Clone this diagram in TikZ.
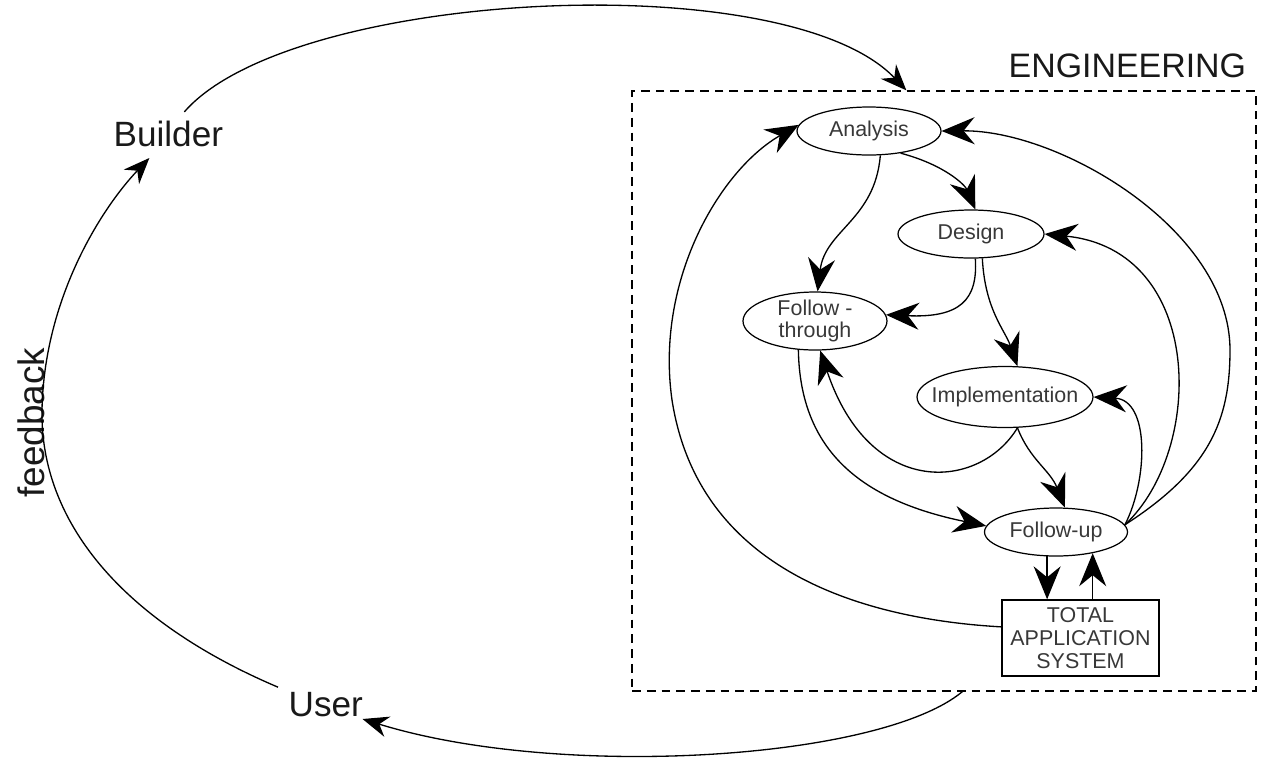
\documentclass[tikz,border=0pt]{standalone}
\usepackage{fontspec}
\setmainfont{Liberation Sans}
\usetikzlibrary{shapes.geometric,arrows.meta,calc}

\begin{document}
\begin{tikzpicture}[x=0.02cm,y=-0.02cm,
  line width=0.75pt,
  big/.style={font=\fontsize{20}{24}\selectfont, text=black!90, inner sep=0},
  lbl/.style={font=\fontsize{12.2}{12.9}\selectfont, text=black!78, inner sep=0, align=center},
  oval/.style={ellipse, draw, line width=0.7pt, inner sep=0},
  flowarrow/.style={-{Stealth[length=0.66cm,width=0.54cm,inset=0.22cm]}},
  cyclearrow/.style={-{Stealth[length=0.52cm,width=0.42cm,inset=0.17cm]}},
]
\useasboundingbox (0,0) rectangle (1269,762);

% outer actors
\node[big, anchor=base west] (builder) at (113,146) {Builder};
\node[big, anchor=base west] (user) at (288,716) {User};
\node[big, anchor=base west, rotate=90, font=\fontsize{21}{24}\selectfont] (fb) at (45,498) {feedback};

% engineering frame
\node[draw, dash pattern=on 5pt off 3.4pt, line width=0.8pt, inner sep=0,
      minimum width=12.48cm, minimum height=12cm] (eng) at (944,391) {};
\node[big, anchor=base west, font=\fontsize{19.3}{23}\selectfont] (englbl) at (1008,77) {ENGINEERING};
\coordinate (engin) at ($(eng.north west)+(275,0)$);
\coordinate (engout) at ($(eng.south west)+(331,0)$);

% process stages
\node[oval, minimum width=2.88cm, minimum height=0.96cm] (an) at (869,131) {};
\node[lbl] (an-t) at (an.center) {Analysis};
\node[oval, minimum width=2.92cm, minimum height=0.96cm] (de) at (971,234) {};
\node[lbl] (de-t) at (de.center) {Design};
\node[oval, minimum width=2.88cm, minimum height=1.16cm] (ft) at (815,321) {};
\node[lbl] (ft-t) at (ft.center) {Follow -\\through};
\node[oval, minimum width=3.52cm, minimum height=1.22cm] (im) at (1005,397) {};
\node[lbl] (im-t) at (im.center) {Implementation};
\node[oval, minimum width=2.86cm, minimum height=0.96cm] (fu) at (1056,532) {};
\node[lbl] (fu-t) at (fu.center) {Follow-up};
\node[draw, line width=0.8pt, inner sep=0, minimum width=3.14cm, minimum height=1.52cm] (tas) at (1080.5,638) {};
\node[lbl] (tas-t) at (tas.center) {TOTAL\\APPLICATION\\SYSTEM};

% outer cycle
\draw[cyclearrow] ($(builder.north)+(16,-8)$) .. controls (290,-10) and (786,-36) .. (engin);
\draw[cyclearrow] (engout) .. controls (880,760) and (560,780) .. ($(user.south east)+(-1,2)$);
\draw[cyclearrow] ($(user.north west)+(-10,-4)$) .. controls (120,620) and (40,520) .. (42,410)
   .. controls (44,300) and (100,210) .. ($(builder.south)+(-19,11)$);

% inner flows
\draw[flowarrow] (an.-35) .. controls (945,165) and (965,185) .. (de.80);
\draw[flowarrow] (an.-65) .. controls (875,220) and (825,230) .. (ft.85);
\draw[flowarrow] (de.-80) .. controls (978,300) and (960,318) .. (ft.5);
\draw[flowarrow] (de.-65) .. controls (985,310) and (1005,330) .. (im.68);
\draw[flowarrow] (im.-68) .. controls (980,490) and (870,500) .. (ft.-80);
\draw[flowarrow] (im.-68) .. controls (1030,460) and (1050,470) .. (fu.70);
\draw[flowarrow] (ft.-120) .. controls (800,450) and (860,500) .. (fu.175);
\draw[flowarrow] (fu.6) .. controls (1148,480) and (1150,400) .. (im.east);
\draw[flowarrow] (fu.6) .. controls (1205,450) and (1205,250) .. (de.east);
\draw[flowarrow] (fu.6) .. controls (1210,470) and (1230,420) .. (1230,350)
   .. controls (1230,230) and (1060,130) .. (an.east);
\draw[flowarrow] (tas.172) .. controls (880,620) and (700,580) .. (672,400)
   .. controls (655,280) and (720,170) .. (an.175);
\draw[flowarrow] (fu.-110) -- (fu.-110 |- tas.north);
\draw[flowarrow] (fu.-30 |- tas.north) -- (fu.-30);
\end{tikzpicture}
\end{document}
